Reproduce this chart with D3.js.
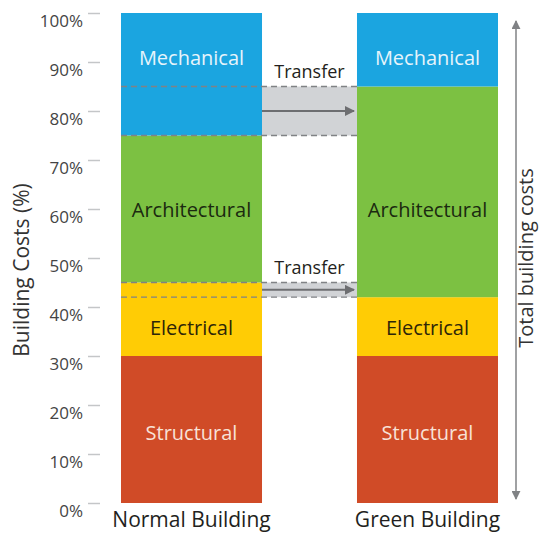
<!DOCTYPE html>
<html><head><meta charset="utf-8">
<script src="https://cdn.jsdelivr.net/npm/d3@7"></script>
<style>body{margin:0;background:#fff;}svg{display:block;font-family:"Open Sans",sans-serif;}</style>
</head><body><svg id="c" width="539" height="533"></svg>
<script>
const categories = ["Normal Building", "Green Building"];
const segments = ["Structural", "Electrical", "Architectural", "Mechanical"];
const normalValues = [30, 15, 30, 25];
const greenValues = [30, 12, 43, 15];
const labelAnchors = [14.3, 35.7, 59.8, 90.9];
const segColors = ["#d04b27", "#ffcc05", "#7cc142", "#1ba5e0"];
const segTextColors = ["#f8e2d8", "#2e2608", "#1b2a10", "#e6f4fb"];
const transfers = [{lo: 75, hi: 85, label: "Transfer"}, {lo: 42, hi: 45, label: "Transfer"}];
const yTicks = [0, 10, 20, 30, 40, 50, 60, 70, 80, 90, 100];

const svg = d3.select("#c");
const x = d3.scaleBand().domain(categories).range([121, 498]).paddingInner(0.4025).paddingOuter(0);
const y = d3.scaleLinear().domain([0, 100]).range([503, 13]);

const series = [normalValues, greenValues];
categories.forEach((cat, ci) => {
  let acc = 0;
  series[ci].forEach((v, si) => {
    const y0 = acc, y1 = acc + v; acc = y1;
    svg.append("rect").attr("x", x(cat)).attr("width", x.bandwidth())
      .attr("y", y(y1)).attr("height", y(y0) - y(y1)).attr("fill", segColors[si]);
  });
});

// transfers
const xN = x(categories[0]), xG = x(categories[1]);
const defs = svg.append("defs");
defs.append("marker").attr("id", "ah").attr("viewBox", "0 0 10 10").attr("refX", 9).attr("refY", 5)
  .attr("markerWidth", 5).attr("markerHeight", 5).attr("orient", "auto")
  .append("path").attr("d", "M0,0L10,5L0,10Z").attr("fill", "#6d6e71");
transfers.forEach(t => {
  svg.append("rect").attr("x", xN + x.bandwidth()).attr("width", xG - xN - x.bandwidth())
    .attr("y", y(t.hi)).attr("height", y(t.lo) - y(t.hi)).attr("fill", "#d1d3d6");
  [t.lo, t.hi].forEach(v => {
    svg.append("line").attr("x1", xN).attr("x2", xG).attr("y1", y(v)).attr("y2", y(v))
      .attr("stroke", "#808285").attr("stroke-width", 1.3).attr("stroke-dasharray", "6,4");
  });
  const my = y((t.lo + t.hi) / 2);
  svg.append("line").attr("x1", xN + x.bandwidth()).attr("x2", xG - 3).attr("y1", my).attr("y2", my)
    .attr("stroke", "#6d6e71").attr("stroke-width", 2).attr("marker-end", "url(#ah)");
  svg.append("text").attr("x", (xN + x.bandwidth() + xG) / 2).attr("y", y(t.hi) - 9)
    .attr("text-anchor", "middle").attr("font-size", 18).attr("fill", "#231f20").text(t.label);
});

// segment labels (same anchor height in both bars)
categories.forEach(cat => {
  segments.forEach((s, si) => {
    svg.append("text").attr("x", x(cat) + x.bandwidth() / 2).attr("y", y(labelAnchors[si]))
      .attr("dy", "0.36em").attr("text-anchor", "middle").attr("font-size", 20)
      .attr("fill", segTextColors[si]).text(s);
  });
});

// y axis
const yAxis = d3.axisLeft(y).tickValues(yTicks).tickFormat(d => d + "%").tickSize(12).tickPadding(5);
const gy = svg.append("g").attr("transform", "translate(100,0)").call(yAxis);
gy.select(".domain").remove();
gy.selectAll(".tick line").attr("stroke", "#c4c6c8").attr("stroke-width", 1.5);
gy.selectAll(".tick text").attr("font-size", 17).attr("fill", "#444").attr("font-family", "Open Sans")
  .attr("dy", "0.8em");

svg.append("text").attr("transform", "translate(29,270) rotate(-90)").attr("text-anchor", "middle")
  .attr("font-size", 21).attr("fill", "#333").text("Building Costs (%)");

// x labels
const gx = svg.append("g").attr("transform", "translate(0,503)")
  .call(d3.axisBottom(x).tickSize(0).tickPadding(0));
gx.select(".domain").remove();
gx.selectAll(".tick text").attr("font-size", 21).attr("fill", "#231f20").attr("font-family", "Open Sans")
  .attr("dy", null).attr("y", 24);

// right double arrow
defs.append("marker").attr("id", "ah2").attr("viewBox", "0 0 10 10").attr("refX", 9).attr("refY", 5)
  .attr("markerWidth", 6).attr("markerHeight", 6).attr("orient", "auto-start-reverse")
  .append("path").attr("d", "M0,0L10,5L0,10Z").attr("fill", "#808285");
svg.append("line").attr("x1", 516).attr("x2", 516).attr("y1", y(100) + 8).attr("y2", y(0) - 4)
  .attr("stroke", "#808285").attr("stroke-width", 1.5)
  .attr("marker-start", "url(#ah2)").attr("marker-end", "url(#ah2)");
svg.append("text").attr("transform", "translate(533,258) rotate(-90)").attr("text-anchor", "middle")
  .attr("font-size", 20).attr("fill", "#333").text("Total building costs");
</script></body></html>
